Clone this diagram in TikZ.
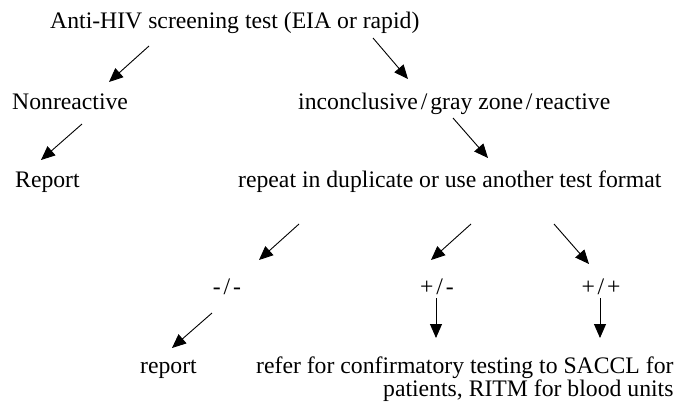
\documentclass[tikz,border=0pt]{standalone}
\usepackage{fontspec}
\setmainfont{Liberation Serif}
\usetikzlibrary{arrows.meta}
\newcommand{\myslash}{\hspace{0.12em}/\hspace{0.12em}}
\begin{document}
\begin{tikzpicture}[x=1pt,y=-1pt,
  lbl/.style={inner sep=0pt, font=\fontsize{23.7}{27}\selectfont},
  arr/.style={line width=0.9pt, -{Triangle[length=14pt,width=12pt]}}]
\useasboundingbox[fill=white] (0,0) rectangle (683,407);
% texts
\node[lbl,anchor=base west] (title) at (50,28) {Anti-HIV screening test (EIA or rapid)};
\node[lbl,anchor=base west] (nonre) at (12,109) {Nonreactive};
\node[lbl,anchor=base west] (incon) at (298,109) {inconclusive\myslash gray zone\myslash reactive};
\node[lbl,anchor=base west] (Report) at (15,187) {Report};
\node[lbl,anchor=base west] (repeat) at (238,187) {repeat in duplicate or use another test format};
\node[lbl,anchor=base] (mm) at (227,294) {-\myslash -};
\node[lbl,anchor=base] (pm) at (437,294) {+\myslash -};
\node[lbl,anchor=base] (pp) at (601,294) {+\myslash +};
\node[lbl,anchor=base east] (report) at (197,373) {report};
\node[lbl,anchor=base west] (refer) at (256,373) {refer for confirmatory testing to SACCL for};
\node[lbl,anchor=base east] (refer2) at ([yshift=-23pt]refer.base east) {patients, RITM for blood units};
% arrow end points
\coordinate (a1s) at (149,46);  \coordinate (a1e) at (109,82);
\coordinate (a2s) at (373,38);  \coordinate (a2e) at (408,79);
\coordinate (a3s) at (82,124);  \coordinate (a3e) at (41,160);
\coordinate (a4s) at (453,118); \coordinate (a4e) at (488,158);
\coordinate (a5s) at (299,224); \coordinate (a5e) at (259,260);
\coordinate (a6s) at (471,224); \coordinate (a6e) at (431,260);
\coordinate (a7s) at (554,224); \coordinate (a7e) at (589,264);
\coordinate (a8s) at (212,313); \coordinate (a8e) at (172,348);
\coordinate (a9s) at (436,298); \coordinate (a9e) at (436,338);
\coordinate (a10s) at (600,298); \coordinate (a10e) at (600,338);
\draw[arr] (a1s) -- (a1e);
\draw[arr] (a2s) -- (a2e);
\draw[arr] (a3s) -- (a3e);
\draw[arr] (a4s) -- (a4e);
\draw[arr] (a5s) -- (a5e);
\draw[arr] (a6s) -- (a6e);
\draw[arr] (a7s) -- (a7e);
\draw[arr] (a8s) -- (a8e);
\draw[arr] (a9s) -- (a9e);
\draw[arr] (a10s) -- (a10e);
\end{tikzpicture}
\end{document}
